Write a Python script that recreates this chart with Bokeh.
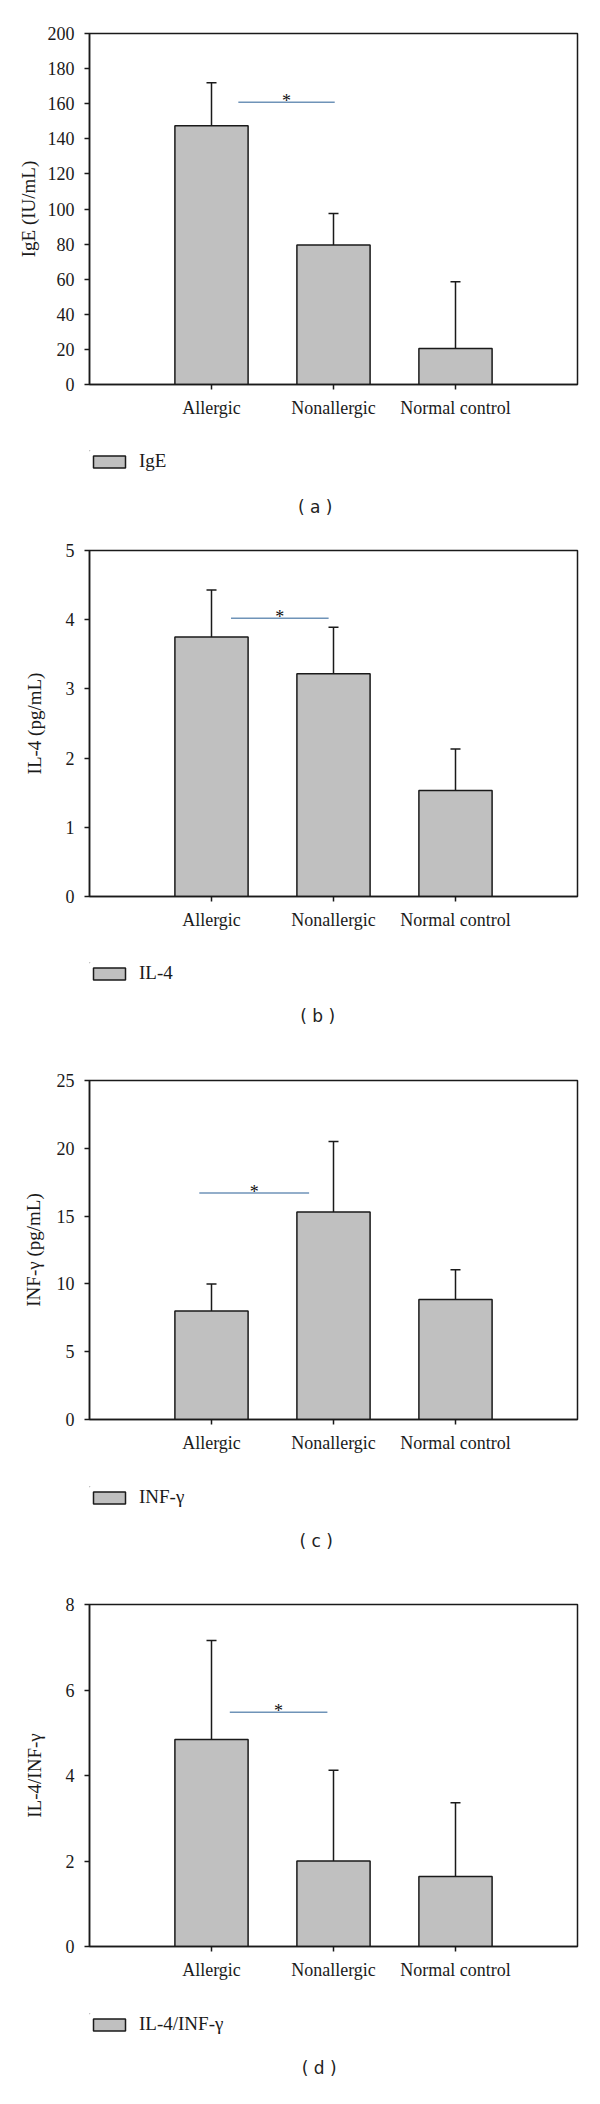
import numpy as np
from bokeh.plotting import figure
from bokeh.models import (Range1d, FixedTicker, Whisker, TeeHead, ColumnDataSource,
                          Legend, LegendItem)
from bokeh.layouts import column
from bokeh.embed import file_html
from bokeh.resources import INLINE
from bokeh.core.properties import value

# ---------------- data ----------------
categories = ["Allergic", "Nonallergic", "Normal control"]

ige_mean = [147.5, 79.5, 20.5]
ige_err = [24.5, 18.0, 38.0]
il4_mean = [3.75, 3.22, 1.53]
il4_err = [0.68, 0.67, 0.60]
inf_mean = [8.0, 15.3, 8.85]
inf_err = [2.0, 5.2, 2.2]
ratio_mean = [4.84, 2.00, 1.64]
ratio_err = [2.32, 2.12, 1.72]

y_max = [200, 5, 25, 8]
y_step = [20, 1, 5, 2]
y_titles = ["IgE (IU/mL)", "IL-4 (pg/mL)", "INF-γ (pg/mL)", "IL-4/INF-γ"]
legend_labels = ["IgE", "IL-4", "INF-γ", "IL-4/INF-γ"]
captions = ["( a )", "( b )", "( c )", "( d )"]

# significance bar (x in category units, y in data units)
sig_start = [1.22, 1.16, 0.90, 1.15]
sig_end = [2.01, 1.96, 1.80, 1.95]
sig_level = [160.8, 4.02, 16.7, 5.48]

means = [ige_mean, il4_mean, inf_mean, ratio_mean]
errs = [ige_err, il4_err, inf_err, ratio_err]

# ---------------- layout / style ----------------
fig_w = 600
# plot figure
a_h = [430, 410, 415, 420]
a_top = [33, 20, 30, 32]
a_bottom = [46, 44, 46, 46]
a_left = [89, 83, 83, 82]
a_right = [21, 22, 23, 23]
ylab_standoff = [6, 18, 10, 18]
# legend / caption strip
b_h = [100, 110, 107, 104]
b_left = [81, 74, 77, 75]
b_top = [20, 22, 21, 21]
cap_x = [240, 246, 243, 247]
cap_y = [56, 53, 54, 54]

SERIF = "Liberation Serif"
DARK = "#1a1a1a"
BAR = "#c0c0c0"
SIG = "#6f93b8"

children = []
for i in range(4):
    xs = list(np.arange(1, len(categories) + 1))
    src = ColumnDataSource(dict(
        x=xs,
        top=means[i],
        upper=[m + e for m, e in zip(means[i], errs[i])],
    ))
    p = figure(width=fig_w, height=a_h[i], output_backend="svg", toolbar_location=None,
               x_range=Range1d(0, len(categories) + 1), y_range=Range1d(0, y_max[i]),
               min_border_top=a_top[i], min_border_bottom=a_bottom[i],
               min_border_left=a_left[i], min_border_right=a_right[i])
    p.xgrid.visible = False
    p.ygrid.visible = False
    p.outline_line_color = DARK
    p.outline_line_width = 1.5
    p.background_fill_color = "white"
    p.border_fill_color = "white"

    p.vbar(x="x", top="top", width=0.6, source=src, fill_color=BAR,
           line_color=DARK, line_width=1.5)

    wh = Whisker(base="x", lower="top", upper="upper", source=src, dimension="height",
                 line_color=DARK, line_width=1.5, lower_head=None,
                 upper_head=TeeHead(size=10, line_color=DARK, line_width=1.5))
    p.add_layout(wh)

    p.segment(x0=[sig_start[i]], y0=[sig_level[i]], x1=[sig_end[i]], y1=[sig_level[i]],
              line_color=SIG, line_width=1.5)
    p.text(x=[(sig_start[i] + sig_end[i]) / 2], y=[sig_level[i]], text=["*"],
           text_font=value(SERIF), text_font_size="18px", text_align="center",
           text_baseline="alphabetic", y_offset=-1, text_color="#111111")

    ticks = [float(t) for t in np.arange(0, y_max[i] + y_step[i] / 2, y_step[i])]
    p.yaxis.ticker = FixedTicker(ticks=ticks)
    p.xaxis.ticker = FixedTicker(ticks=[float(x) for x in xs])
    p.xaxis.major_label_overrides = {int(x): c for x, c in zip(xs, categories)}
    for ax in (p.xaxis, p.yaxis):
        ax.axis_line_color = DARK
        ax.axis_line_width = 1.5
        ax.major_tick_line_color = DARK
        ax.major_tick_line_width = 1.5
        ax.major_tick_out = 5
        ax.major_tick_in = 0
        ax.minor_tick_line_color = None
        ax.major_label_text_font = SERIF
        ax.major_label_text_font_size = "18px"
        ax.major_label_text_color = DARK
    p.yaxis.major_label_standoff = 10
    p.xaxis.major_label_standoff = 8
    p.yaxis.axis_label = y_titles[i]
    p.yaxis.axis_label_text_font = SERIF
    p.yaxis.axis_label_text_font_size = "19px"
    p.yaxis.axis_label_text_font_style = "normal"
    p.yaxis.axis_label_text_color = DARK
    p.yaxis.axis_label_standoff = ylab_standoff[i]
    children.append(p)

    # legend + caption strip (pixel coordinates, y downward)
    q = figure(width=fig_w, height=b_h[i], output_backend="svg", toolbar_location=None,
               x_range=Range1d(0, fig_w - b_left[i]), y_range=Range1d(b_h[i] - b_top[i], 0),
               x_axis_location=None, y_axis_location=None,
               min_border_top=b_top[i], min_border_left=b_left[i],
               min_border_right=0, min_border_bottom=0)
    q.xgrid.visible = False
    q.ygrid.visible = False
    q.outline_line_color = None
    q.background_fill_color = "white"
    q.border_fill_color = "white"
    # legend key renderer: same style as the bars, its bar lies far outside the strip's view
    key = q.vbar(x=[-10000], top=[-10000], bottom=[-10001], width=1, fill_color=BAR,
                 line_color=DARK, line_width=1.5)
    legend = Legend(items=[LegendItem(label=legend_labels[i], renderers=[key])],
                    location="top_left", orientation="horizontal", margin=0, padding=0,
                    glyph_width=40, glyph_height=15, label_height=15, label_standoff=10,
                    border_line_color=None, background_fill_alpha=0,
                    label_text_font=SERIF, label_text_font_size="19px",
                    label_text_color=DARK)
    q.add_layout(legend)
    q.text(x=[cap_x[i]], y=[cap_y[i]], text=[captions[i]], text_font=value("DejaVu Sans"),
           text_font_size="17px", text_align="center", text_baseline="middle",
           text_color="#222222")
    children.append(q)

layout = column(*children, spacing=0)
open("out.html", "w").write(file_html(layout, INLINE))
